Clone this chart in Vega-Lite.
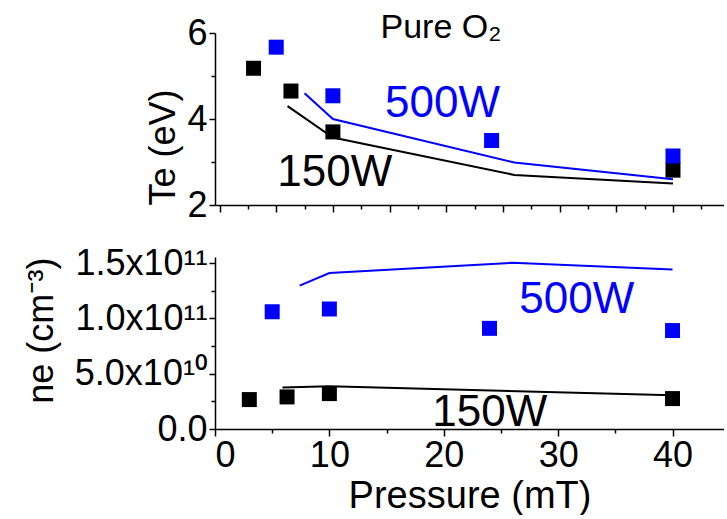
{
  "$schema": "https://vega.github.io/schema/vega-lite/v6.json",
  "background": "white",
  "padding": {"left": 23, "top": 11, "right": 0, "bottom": 0},
  "datasets": {
    "te": [
      {"kind": "measured", "power": "150W", "pressure": 3, "value": 5.18},
      {"kind": "measured", "power": "150W", "pressure": 6.3, "value": 4.65},
      {"kind": "measured", "power": "150W", "pressure": 10, "value": 3.7},
      {"kind": "measured", "power": "150W", "pressure": 40, "value": 2.81},
      {"kind": "measured", "power": "500W", "pressure": 5, "value": 5.67},
      {"kind": "measured", "power": "500W", "pressure": 10, "value": 4.54},
      {"kind": "measured", "power": "500W", "pressure": 24, "value": 3.5},
      {"kind": "measured", "power": "500W", "pressure": 40, "value": 3.14},
      {"kind": "model", "power": "150W", "pressure": 6, "value": 4.3},
      {"kind": "model", "power": "150W", "pressure": 10, "value": 3.57},
      {"kind": "model", "power": "150W", "pressure": 26, "value": 2.7},
      {"kind": "model", "power": "150W", "pressure": 40, "value": 2.5},
      {"kind": "model", "power": "500W", "pressure": 7.5, "value": 4.6},
      {"kind": "model", "power": "500W", "pressure": 10, "value": 4.0},
      {"kind": "model", "power": "500W", "pressure": 26, "value": 2.99},
      {"kind": "model", "power": "500W", "pressure": 40, "value": 2.6}
    ],
    "ne": [
      {"kind": "measured", "power": "150W", "pressure": 3, "value": 2.66e10},
      {"kind": "measured", "power": "150W", "pressure": 6.3, "value": 2.9e10},
      {"kind": "measured", "power": "150W", "pressure": 10, "value": 3.2e10},
      {"kind": "measured", "power": "150W", "pressure": 40, "value": 2.75e10},
      {"kind": "measured", "power": "500W", "pressure": 5, "value": 1.06e11},
      {"kind": "measured", "power": "500W", "pressure": 10, "value": 1.085e11},
      {"kind": "measured", "power": "500W", "pressure": 24, "value": 9.1e10},
      {"kind": "measured", "power": "500W", "pressure": 40, "value": 8.9e10},
      {"kind": "model", "power": "150W", "pressure": 5.9, "value": 3.75e10},
      {"kind": "model", "power": "150W", "pressure": 10, "value": 3.87e10},
      {"kind": "model", "power": "150W", "pressure": 40, "value": 3.05e10},
      {"kind": "model", "power": "500W", "pressure": 7.4, "value": 1.296e11},
      {"kind": "model", "power": "500W", "pressure": 10, "value": 1.41e11},
      {"kind": "model", "power": "500W", "pressure": 26, "value": 1.503e11},
      {"kind": "model", "power": "500W", "pressure": 40, "value": 1.442e11}
    ],
    "teLabels": [
      {"power": "500W", "pressure": 14.6, "value": 4.04, "text": "500W"},
      {"power": "150W", "pressure": 5.1, "value": 2.45, "text": "150W"}
    ],
    "neLabels": [
      {"power": "500W", "pressure": 26.6, "value": 1.048e11, "text": "500W"},
      {"power": "150W", "pressure": 19.0, "value": 2.4e9, "text": "150W"}
    ],
    "heading": [
      {"pressure": 14.2, "value": 5.88, "text": "Pure O₂"}
    ]
  },
  "config": {
    "view": {"stroke": null},
    "concat": {"spacing": 22},
    "font": "Liberation Sans",
    "axis": {
      "grid": false,
      "domainColor": "black",
      "domainWidth": 1.5,
      "tickColor": "black",
      "tickWidth": 1.5,
      "labelFont": "'Liberation Sans', 'Noto Sans'",
      "labelFontSize": 36,
      "labelColor": "black",
      "titleFont": "'Liberation Sans', 'Noto Sans'",
      "titleFontSize": 36,
      "titleFontWeight": "normal",
      "titleColor": "black"
    }
  },
  "vconcat": [
    {
      "width": 509,
      "height": 172,
      "encoding": {
        "x": {
          "field": "pressure",
          "type": "quantitative",
          "scale": {"domain": [-0.4, 44.5], "nice": false, "zero": false},
          "axis": {
            "title": null,
            "labels": false,
            "values": [0, 2.5, 5, 7.5, 10, 12.5, 15, 17.5, 20, 22.5, 25, 27.5, 30, 32.5, 35, 37.5, 40, 42.5],
            "tickSize": {"condition": {"test": "datum.value % 5 !== 0", "value": 4}, "value": 7}
          }
        },
        "y": {
          "field": "value",
          "type": "quantitative",
          "scale": {"domain": [2, 6], "nice": false, "zero": false},
          "axis": {
            "title": "Te (eV)",
            "titleAnchor": "start",
            "values": [2, 3, 4, 5, 6],
            "labelExpr": "datum.value % 2 === 0 ? datum.label : ''",
            "tickSize": {"condition": {"test": "datum.value % 2 !== 0", "value": 4}, "value": 6}
          }
        },
        "color": {
          "field": "power",
          "type": "nominal",
          "scale": {"domain": ["150W", "500W"], "range": ["#000000", "#0000ff"]},
          "legend": null
        }
      },
      "layer": [
        {
          "data": {"name": "te"},
          "transform": [{"filter": "datum.kind === 'model'"}],
          "mark": {"type": "line", "strokeWidth": 2}
        },
        {
          "data": {"name": "te"},
          "transform": [{"filter": "datum.kind === 'measured'"}],
          "mark": {"type": "point", "shape": "square", "filled": true, "opacity": 1, "size": 225}
        },
        {
          "data": {"name": "teLabels"},
          "mark": {"type": "text", "align": "left", "baseline": "alphabetic", "fontSize": 44, "font": "Liberation Sans"},
          "encoding": {"text": {"field": "text"}}
        },
        {
          "data": {"name": "heading"},
          "mark": {"type": "text", "align": "left", "baseline": "alphabetic", "fontSize": 34, "font": "'Liberation Sans', 'Noto Sans'"},
          "encoding": {"text": {"field": "text"}, "color": {"value": "black"}}
        }
      ]
    },
    {
      "width": 509,
      "height": 172,
      "encoding": {
        "x": {
          "field": "pressure",
          "type": "quantitative",
          "scale": {"domain": [0, 44.5], "nice": false, "zero": false},
          "axis": {
            "title": "Pressure (mT)",
            "titleFontSize": 38,
            "values": [0, 5, 10, 15, 20, 25, 30, 35, 40],
            "labelExpr": "datum.value % 10 === 0 ? datum.label : ''",
            "tickSize": {"condition": {"test": "datum.value % 10 !== 0", "value": 4}, "value": 7}
          }
        },
        "y": {
          "field": "value",
          "type": "quantitative",
          "scale": {"domain": [0, 1.555e11], "nice": false, "zero": false},
          "axis": {
            "title": "ne (cm⁻³)",
            "titleAnchor": "end",
            "titlePadding": 14,
            "values": [0, 2.5e10, 5e10, 7.5e10, 1e11, 1.25e11, 1.5e11],
            "labelExpr": "datum.value % 5e10 !== 0 ? '' : datum.value === 0 ? '0.0' : datum.value < 1e11 ? format(datum.value / 1e10, '.1f') + 'x10¹⁰' : format(datum.value / 1e11, '.1f') + 'x10¹¹'",
            "tickSize": {"condition": {"test": "datum.value % 5e10 !== 0", "value": 4}, "value": 6}
          }
        },
        "color": {
          "field": "power",
          "type": "nominal",
          "scale": {"domain": ["150W", "500W"], "range": ["#000000", "#0000ff"]},
          "legend": null
        }
      },
      "layer": [
        {
          "data": {"name": "ne"},
          "transform": [{"filter": "datum.kind === 'model'"}],
          "mark": {"type": "line", "strokeWidth": 2}
        },
        {
          "data": {"name": "ne"},
          "transform": [{"filter": "datum.kind === 'measured'"}],
          "mark": {"type": "point", "shape": "square", "filled": true, "opacity": 1, "size": 225}
        },
        {
          "data": {"name": "neLabels"},
          "mark": {"type": "text", "align": "left", "baseline": "alphabetic", "fontSize": 44, "font": "Liberation Sans"},
          "encoding": {"text": {"field": "text"}}
        }
      ]
    }
  ]
}
